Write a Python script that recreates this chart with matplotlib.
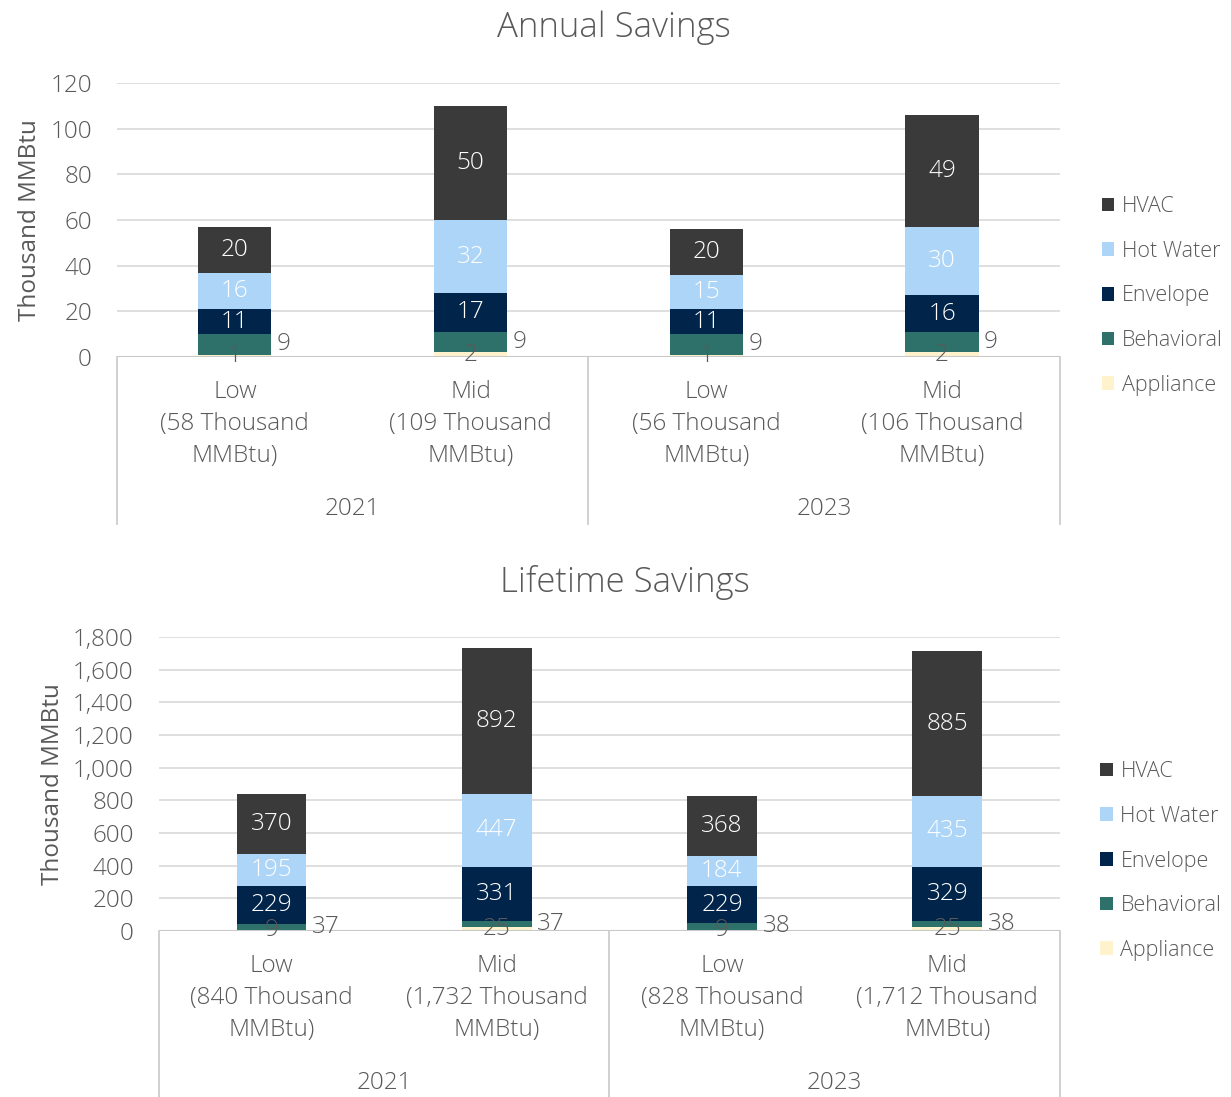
import matplotlib
matplotlib.use("Agg")
import matplotlib.pyplot as plt
import matplotlib.transforms as mtransforms
import numpy as np

plt.rcParams['font.family'] = ['Open Sans', 'DejaVu Sans']
plt.rcParams['font.weight'] = 'light'

# categories
years = ["2021", "2023"]
levels = ["Low", "Mid", "Low", "Mid"]
annual_totals = ["58", "109", "56", "106"]
lifetime_totals = ["840", "1,732", "828", "1,712"]

series = ["Appliance", "Behavioral", "Envelope", "Hot Water", "HVAC"]
colors = ["#fff2cc", "#2e716b", "#00244a", "#acd5f7", "#3b3a3a"]
label_colors = ["#595959", "#595959", "white", "white", "white"]

# annual savings, thousand MMBtu
annual = {
    "Appliance": [1, 2, 1, 2],
    "Behavioral": [9, 9, 9, 9],
    "Envelope": [11, 17, 11, 16],
    "Hot Water": [16, 32, 15, 30],
    "HVAC": [20, 50, 20, 49],
}
# lifetime savings, thousand MMBtu
lifetime = {
    "Appliance": [9, 25, 9, 25],
    "Behavioral": [37, 37, 38, 38],
    "Envelope": [229, 331, 229, 329],
    "Hot Water": [195, 447, 184, 435],
    "HVAC": [370, 892, 368, 885],
}

TXT = "#595959"
GRID = "#d9d9d9"
FS = 17.5


def draw_panel(ax, data, totals, title, ymax, ystep, fmt, width, title_x, leg_y):
    x = np.arange(len(levels))
    bottom = np.zeros(len(levels))
    for name, col, lc in zip(series, colors, label_colors):
        vals = np.array(data[name], dtype=float)
        ax.bar(x, vals, width, bottom=bottom, color=col, label=name, zorder=3)
        for i, v in enumerate(vals):
            yc = bottom[i] + v / 2
            if name == "Behavioral":
                ax.annotate(str(int(v)), (x[i] + width / 2, yc), xytext=(4, 0),
                            textcoords="offset points", ha="left", va="center",
                            color=lc, fontsize=FS, zorder=5)
            else:
                ax.text(x[i], yc, str(int(v)), ha="center", va="center",
                        color=lc, fontsize=FS, zorder=5)
        bottom += vals

    ax.set_xlim(-0.5, len(levels) - 0.5)
    ax.set_ylim(0, ymax)
    ticks = np.arange(0, ymax + 1, ystep)
    ax.set_yticks(ticks)
    ax.set_yticklabels([fmt(t) for t in ticks])
    ax.tick_params(axis="y", length=0, labelsize=FS, labelcolor=TXT, pad=18)
    ax.set_xticks([])
    ax.grid(axis="y", color=GRID, linewidth=1.2, zorder=0)
    for s in ax.spines.values():
        s.set_visible(False)
    ax.axhline(0, color="#c8c8c8", linewidth=1.5, zorder=4)
    ax.set_ylabel("Thousand MMBtu", fontsize=FS, color=TXT, labelpad=6)

    fig = ax.figure
    tr = mtransforms.blended_transform_factory(ax.transData, ax.transAxes)
    h = ax.get_position().height * fig.get_figheight() * fig.dpi
    # category labels (pixel offsets below the axis)
    for i, (lv, tot) in enumerate(zip(levels, totals)):
        ax.text(i, -23 / h, f"{lv}\n({tot} Thousand\nMMBtu)", transform=tr,
                ha="center", va="top", fontsize=FS, color=TXT, linespacing=1.45)
    for j, yr in enumerate(years):
        ax.text(2 * j + 0.5, -152 / h, yr, transform=tr, ha="center", va="center",
                fontsize=FS, color=TXT)
    for xs in [-0.5, 1.5, 3.5]:
        ax.plot([xs, xs], [0, -167 / h], transform=tr, color="#c8c8c8",
                linewidth=1.2, clip_on=False)

    fig.text(title_x, ax.get_position().y1 + 0.05, title, ha="center",
             va="center", fontsize=25, color=TXT)

    handles, labels = ax.get_legend_handles_labels()
    ax.legend(handles[::-1], labels[::-1], loc="center left",
              bbox_to_anchor=(1.035, leg_y), frameon=False, fontsize=15.5,
              labelcolor=TXT, handlelength=0.6, handleheight=0.6,
              handletextpad=0.35, labelspacing=1.1, borderaxespad=0)


fig = plt.figure(figsize=(12.31, 10.97), dpi=100)
ax1 = fig.add_axes([0.095, 0.6746, 0.766, 0.2497])
ax2 = fig.add_axes([0.129, 0.1513, 0.732, 0.268])

draw_panel(ax1, annual, annual_totals, "Annual Savings", 120, 20,
           lambda t: f"{int(t)}", 0.31, 0.499, 0.223)
draw_panel(ax2, lifetime, lifetime_totals, "Lifetime Savings", 1800, 200,
           lambda t: f"{int(t):,}", 0.31, 0.508, 0.238)

fig.savefig("out.png", dpi=100)
